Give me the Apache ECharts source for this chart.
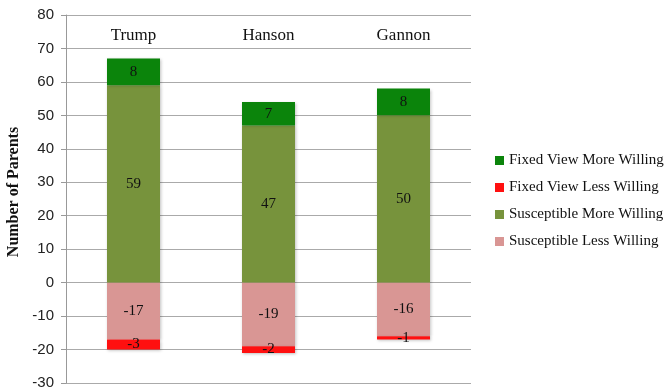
<!DOCTYPE html>
<html><head><meta charset="utf-8">
<script src="https://cdn.jsdelivr.net/npm/echarts@6/dist/echarts.min.js"></script>
<style>html,body{margin:0;padding:0;background:#fff}#c{width:668px;height:392px}</style>
</head><body><div id="c"></div>
<script>
var categories = ['Trump', 'Hanson', 'Gannon'];
var fixedMore = [8, 7, 8];
var fixedLess = [-3, -2, -1];
var suscMore = [59, 47, 50];
var suscLess = [-17, -19, -16];
var legendOrder = ['Fixed View More Willing', 'Fixed View Less Willing', 'Susceptible More Willing', 'Susceptible Less Willing'];

var chart = echarts.init(document.getElementById('c'));
var lbl = {show: true, position: 'inside', color: '#111', fontSize: 15, fontFamily: 'Liberation Serif'};
function s(name, data, color) {
  return {name: name, type: 'bar', stack: 'a', data: data, barWidth: 53,
    itemStyle: {color: color, shadowBlur: 3, shadowColor: 'rgba(0,0,0,0.25)', shadowOffsetX: 1, shadowOffsetY: 1},
    label: lbl};
}
chart.setOption({
  animation: false,
  grid: {left: 66, right: 197, top: 15, bottom: 9, containLabel: false, outerBoundsMode: 'none'},
  legend: {orient: 'vertical', left: 490, top: 148, itemWidth: 9, itemHeight: 9, itemGap: 12, icon: 'rect',
    data: legendOrder, textStyle: {fontFamily: 'Liberation Serif', fontSize: 15, color: '#111'}},
  xAxis: {type: 'category', data: categories, position: 'top',
    axisLine: {show: false}, axisTick: {show: false},
    axisLabel: {inside: true, margin: 12, fontFamily: 'Liberation Serif', fontSize: 17, color: '#111'}},
  yAxis: {type: 'value', min: -30, max: 80, interval: 10,
    name: 'Number of Parents', nameLocation: 'middle', nameGap: 42, nameRotate: 90,
    nameTextStyle: {fontFamily: 'Liberation Serif', fontWeight: 'bold', fontSize: 16, color: '#111', padding: [0, 0, 0, 14]},
    axisLine: {show: true, lineStyle: {color: '#999'}},
    axisTick: {show: true, length: 5, lineStyle: {color: '#999'}},
    splitLine: {lineStyle: {color: '#aaa'}},
    axisLabel: {fontFamily: 'Liberation Sans', fontSize: 15, color: '#222', margin: 12}},
  series: [
    s('Susceptible More Willing', suscMore, '#77933c'),
    s('Fixed View More Willing', fixedMore, '#0b840b'),
    s('Susceptible Less Willing', suscLess, '#d99694'),
    s('Fixed View Less Willing', fixedLess, '#ff1010')
  ]
});
</script></body></html>
